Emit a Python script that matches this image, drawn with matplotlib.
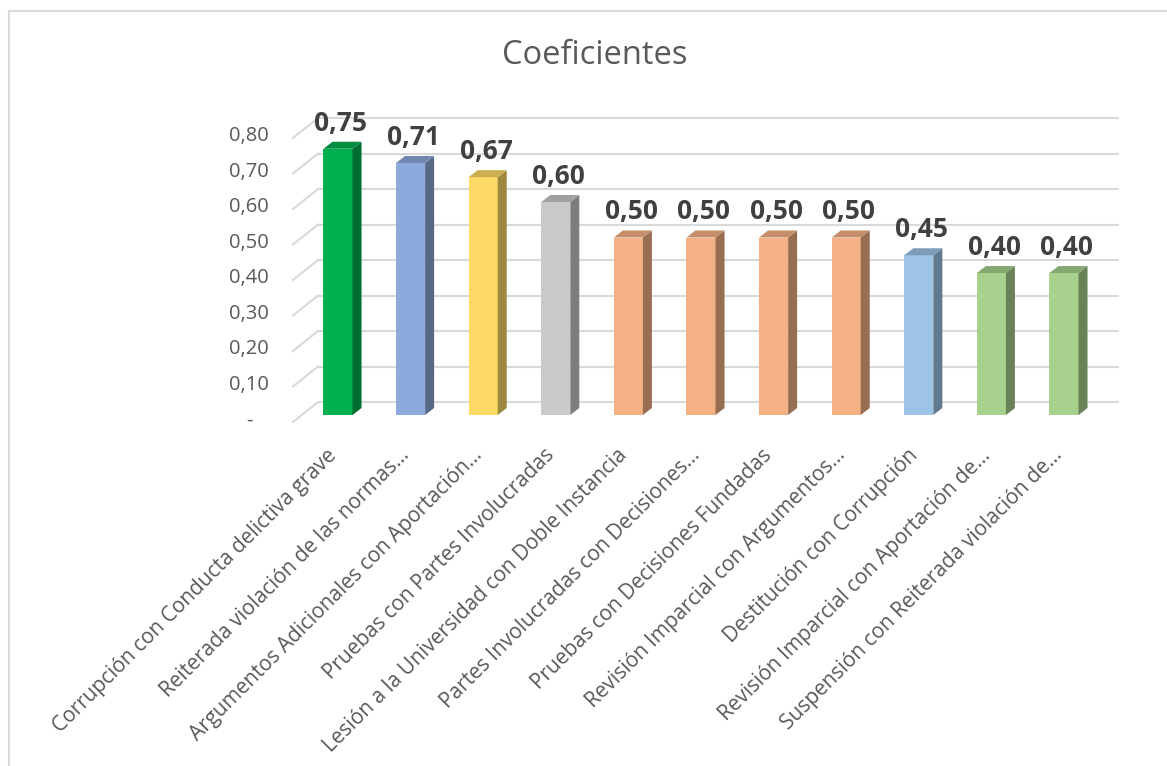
import matplotlib
matplotlib.use("Agg")
import matplotlib.pyplot as plt
from matplotlib.patches import Polygon
from matplotlib.lines import Line2D
from matplotlib.colors import to_rgb

plt.rcParams['font.family'] = ['Open Sans', 'DejaVu Sans']

# data
categories = [
    "Corrupción con Conducta delictiva grave",
    "Reiterada violación de las normas...",
    "Argumentos Adicionales con Aportación...",
    "Pruebas con Partes Involucradas",
    "Lesión a la Universidad con Doble Instancia",
    "Partes Involucradas con Decisiones...",
    "Pruebas con Decisiones Fundadas",
    "Revisión Imparcial con Argumentos...",
    "Destitución con Corrupción",
    "Revisión Imparcial con Aportación de...",
    "Suspensión con Reiterada violación de...",
]
coeficientes = [0.75, 0.71, 0.67, 0.60, 0.50, 0.50, 0.50, 0.50, 0.45, 0.40, 0.40]
bar_colors = ["#00B050", "#8EA9DB", "#FFD966", "#C9C9C9", "#F4B183", "#F4B183",
              "#F4B183", "#F4B183", "#9DC3E6", "#A9D18E", "#A9D18E"]
y_ticks = [0.0, 0.1, 0.2, 0.3, 0.4, 0.5, 0.6, 0.7, 0.8]
y_tick_labels = ["-", "0,10", "0,20", "0,30", "0,40", "0,50", "0,60", "0,70", "0,80"]
title = "Coeficientes"

W, H = 1167, 766
TEXT_GRAY = "#595959"
GRID = "#d9d9d9"

# 3d look (in data units)
bar_width = 0.4
DX, DY = 0.124, 0.0197          # depth of a bar
WALL_X0, WALL_X1 = -0.275, 10.76  # back wall
WALL_DY = 0.0366
FRONT_X, FRONT_DY = -0.62, -0.0197


def shade(color, f):
    r, g, b = to_rgb(color)
    return (r * f, g * f, b * f)


def draw_walls(ax):
    for v, lab in zip(y_ticks, y_tick_labels):
        ax.plot([WALL_X0, WALL_X1], [v + WALL_DY, v + WALL_DY], color=GRID, lw=1.5, zorder=1,
                solid_capstyle='butt')
        ax.plot([FRONT_X, WALL_X0], [v + FRONT_DY, v + WALL_DY], color=GRID, lw=1.5, zorder=1)
        ax.text(-1.226, v - 0.015, lab, ha='center', va='center',
                fontsize=14.5, color=TEXT_GRAY)


def draw_bars(ax):
    x = list(range(len(coeficientes)))
    ax.bar(x, coeficientes, bar_width, color=bar_colors, zorder=3)
    for i, (v, c) in enumerate(zip(coeficientes, bar_colors)):
        r = i + bar_width / 2
        l = i - bar_width / 2
        side = Polygon([(r, 0), (r + DX, DY), (r + DX, v + DY), (r, v)],
                       closed=True, facecolor=shade(c, 0.62), edgecolor='none', zorder=3)
        top = Polygon([(l, v), (r, v), (r + DX, v + DY), (l + DX, v + DY)],
                      closed=True, facecolor=shade(c, 0.8), edgecolor='none', zorder=3)
        ax.add_patch(side)
        ax.add_patch(top)
        ax.annotate('{:.2f}'.format(v).replace('.', ','), xy=(i, v), xytext=(2, 18.5),
                    textcoords='offset points', ha='center', va='center',
                    fontsize=19, fontweight='bold', color='#404040', zorder=4)
        ax.text(i - 0.06, -0.105, categories[i], rotation=45, rotation_mode='anchor',
                ha='right', va='center', fontsize=15, color=TEXT_GRAY)


if __name__ == "__main__":
    fig = plt.figure(figsize=(W / 100, H / 100), dpi=100)
    # axes placed so bar units map onto the reference pixels
    x0, x1 = 265.4, 1136.6
    y0, y1 = 450.5, 95.5
    ax = fig.add_axes([x0 / W, 1 - y0 / H, (x1 - x0) / W, (y0 - y1) / H])
    ax.set_xlim(-1.0, 11.0)
    ax.set_ylim(-0.1, 0.9)
    ax.axis('off')

    draw_walls(ax)
    draw_bars(ax)

    fig.text(595 / W, 1 - 55 / H, title, ha='center', va='center', fontsize=23.5, color=TEXT_GRAY)

    # chart frame
    fig.add_artist(Line2D([9 / W, 9 / W], [0, 1 - 11 / H], color=GRID, lw=1.5))
    fig.add_artist(Line2D([9 / W, 1], [1 - 11 / H, 1 - 11 / H], color=GRID, lw=1.5))

    fig.savefig("out.png", dpi=100)
